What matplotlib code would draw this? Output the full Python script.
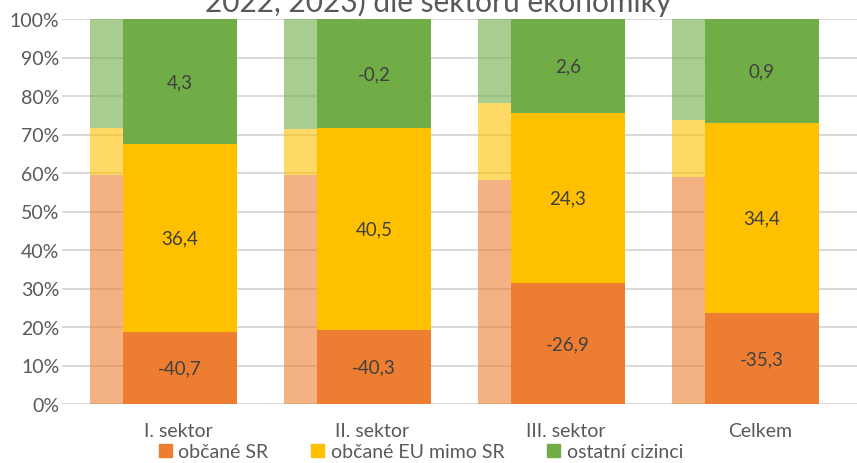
import numpy as np
import matplotlib
matplotlib.use("Agg")
import matplotlib.pyplot as plt
from matplotlib.patches import Patch

plt.rcParams['font.family'] = ['Lato', 'DejaVu Sans']

# sectors and the three groups of employees
sectors = ['I. sektor', 'II. sektor', 'III. sektor', 'Celkem']
groups = ['občané SR', 'občané EU mimo SR', 'ostatní cizinci']
colors = ['#ED7D31', '#FFC000', '#70AD47']

# 2022 shares (%) per sector: SR, EU, others
share_2022_sr = [59.5, 59.5, 58.2, 59.0]
share_2022_eu = [12.3, 11.9, 20.0, 14.8]
share_2022_ot = [28.2, 28.6, 21.8, 26.2]

# change 2023 vs 2022 in percentage points
change_sr = [-40.7, -40.3, -26.9, -35.3]
change_eu = [36.4, 40.5, 24.3, 34.4]
change_ot = [4.3, -0.2, 2.6, 0.9]

old = np.array([share_2022_sr, share_2022_eu, share_2022_ot])
chg = np.array([change_sr, change_eu, change_ot])
new = old + chg

fig = plt.figure(figsize=(8.57, 4.64), dpi=100)
ax = fig.add_axes([62 / 857, 1 - 405 / 464, 795 / 857, 385 / 464])

x = np.arange(len(sectors))
w = 0.588

# older year: faded bars slightly to the left, behind
bottom = np.zeros(len(sectors))
for i in range(3):
    ax.bar(x - 0.16, old[i], w, bottom=bottom, color=colors[i], alpha=0.6,
           linewidth=0, zorder=2)
    bottom += old[i]

# newer year: solid bars with the change written inside
bottom = np.zeros(len(sectors))
for i in range(3):
    ax.bar(x + 0.01, new[i], w, bottom=bottom, color=colors[i], linewidth=0, zorder=3)
    for j in range(len(sectors)):
        ax.text(x[j] + 0.01, bottom[j] + new[i][j] / 2, f'{chg[i][j]:.1f}'.replace('.', ','),
                ha='center', va='center', fontsize=13.5, color='#404040', zorder=4)
    bottom += new[i]

ax.set_xlim(-0.598, 3.5)
ax.set_ylim(0, 100)
ax.set_yticks(np.arange(0, 101, 10))
ax.set_yticklabels([f'{v}%' for v in range(0, 101, 10)])
ax.set_xticks(x)
ax.set_xticklabels(sectors)
ax.tick_params(length=0, labelsize=14, colors='#595959')
ax.tick_params(axis='x', pad=13)
ax.tick_params(axis='y', pad=2)
ax.grid(axis='y', color='#D9D9D9', linewidth=1.4, zorder=1)
ax.set_axisbelow(True)
for s in ax.spines.values():
    s.set_visible(False)

fig.text(0.511, 1 - 12 / 464, '2022, 2023) dle sektorů ekonomiky',
         ha='center', va='baseline', fontsize=21.5, color='#595959')

handles = [Patch(color=c) for c in colors]
fig.legend(handles, groups, loc='center', bbox_to_anchor=(421 / 857, 1 - 453 / 464),
           ncol=3, frameon=False, fontsize=14, labelcolor='#595959',
           handlelength=0.65, handleheight=0.65, handletextpad=0.35,
           columnspacing=2.2, borderaxespad=0)

fig.savefig('out.png', dpi=100)
